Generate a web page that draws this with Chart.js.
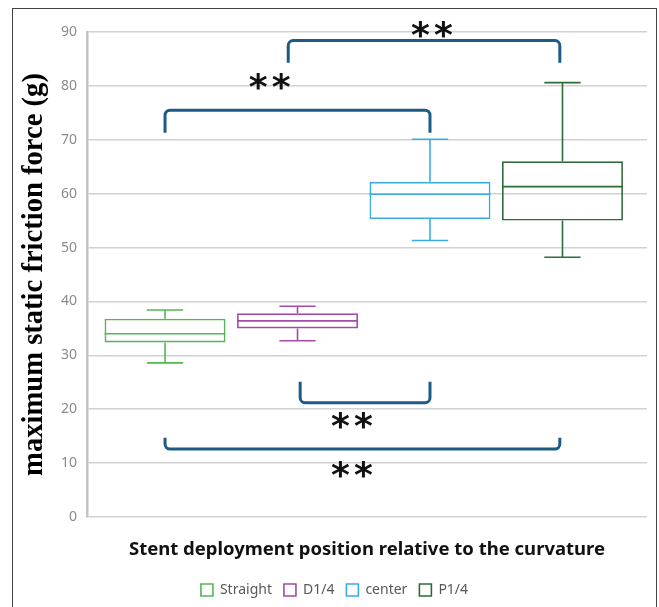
<!DOCTYPE html>
<html><head><meta charset="utf-8">
<script src="https://cdn.jsdelivr.net/npm/chart.js@4.4.1/dist/chart.umd.min.js"></script>
<style>
html,body{margin:0;padding:0;background:#fff;}
#wrap{position:relative;width:659px;height:607px;overflow:hidden;}
#frame{position:absolute;left:12px;top:8px;width:643px;height:640px;border:1.5px solid #444;pointer-events:none;}
canvas{position:absolute;left:0;top:0;}
</style></head><body>
<div id="wrap"><canvas id="c" width="659" height="607"></canvas><div id="frame"></div></div>
<script>
// ---- data ----
const categories = ['Straight', 'D1/4', 'center', 'P1/4'];
const positions = [0, 1, 2, 3];
const whiskerMax = [38.4, 39.1, 70.1, 80.6];
const q3 = [36.8, 37.8, 62.2, 66.0];
const medians = [34.0, 36.4, 59.9, 61.3];
const q1 = [32.4, 35.0, 55.3, 55.0];
const whiskerMin = [28.6, 32.7, 51.3, 48.2];
const yTicks = [0, 10, 20, 30, 40, 50, 60, 70, 80, 90];
const colors = ['#55B655', '#A54AA6', '#3AACE2', '#2E6B37'];

// significance brackets (category positions / y values)
const bracketFrom = [0.93, 0.0, 1.02, 0.0];
const bracketTo = [2.98, 2.0, 2.0, 2.98];
const bracketLevel = [88.4, 75.5, 21.2, 12.6];
const bracketTip = [84.3, 71.3, 25.1, 14.7];
const starX = [2.015, 0.79, 1.41, 1.41];
const starY = [90.4, 80.8, 18.0, 8.9];
const starText = ['*', '*', '*', '*'];

const datasets = categories.map((name, i) => ({
  label: name,
  data: [{x: positions[i], y: [q1[i], q3[i]]}],
  backgroundColor: 'rgba(255,255,255,0)',
  borderColor: colors[i],
  borderWidth: 1.6,
  borderSkipped: false,
  grouped: false,
  categoryPercentage: 1,
  barPercentage: 0.913
}));

const boxPlugin = {
  id: 'boxExtras',
  afterDatasetsDraw(chart) {
    const ctx = chart.ctx, y = chart.scales.y;
    ctx.save();
    chart.data.datasets.forEach((ds, i) => {
      const bar = chart.getDatasetMeta(i).data[0];
      const cx = bar.x, w = bar.width, cap = w * 0.3;
      ctx.strokeStyle = colors[i];
      ctx.lineWidth = 1.6;
      ctx.beginPath();
      ctx.moveTo(cx - w / 2, y.getPixelForValue(medians[i]));
      ctx.lineTo(cx + w / 2, y.getPixelForValue(medians[i]));
      ctx.moveTo(cx, y.getPixelForValue(q3[i]));
      ctx.lineTo(cx, y.getPixelForValue(whiskerMax[i]));
      ctx.moveTo(cx, y.getPixelForValue(q1[i]));
      ctx.lineTo(cx, y.getPixelForValue(whiskerMin[i]));
      ctx.moveTo(cx - cap / 2, y.getPixelForValue(whiskerMax[i]));
      ctx.lineTo(cx + cap / 2, y.getPixelForValue(whiskerMax[i]));
      ctx.moveTo(cx - cap / 2, y.getPixelForValue(whiskerMin[i]));
      ctx.lineTo(cx + cap / 2, y.getPixelForValue(whiskerMin[i]));
      ctx.stroke();
    });
    ctx.restore();
  },
  afterDraw(chart) {
    const ctx = chart.ctx, x = chart.scales.x, y = chart.scales.y;
    ctx.save();
    ctx.strokeStyle = '#1D5B84';
    ctx.lineWidth = 3;
    ctx.lineJoin = 'round';
    ctx.lineCap = 'butt';
    bracketFrom.forEach((f, i) => {
      const x1 = x.getPixelForValue(f), x2 = x.getPixelForValue(bracketTo[i]);
      const yl = y.getPixelForValue(bracketLevel[i]), yt = y.getPixelForValue(bracketTip[i]);
      const r = 5;
      ctx.beginPath();
      ctx.moveTo(x1, yt);
      ctx.arcTo(x1, yl, x2, yl, r);
      ctx.arcTo(x2, yl, x2, yt, r);
      ctx.lineTo(x2, yt);
      ctx.stroke();
    });
    ctx.fillStyle = '#111';
    ctx.font = 'bold 36px "DejaVu Sans"';
    ctx.textAlign = 'center';
    ctx.textBaseline = 'alphabetic';
    starX.forEach((sx, i) => {
      const px = x.getPixelForValue(sx), py = y.getPixelForValue(starY[i]);
      const m = ctx.measureText(starText[i]);
      const off = (m.actualBoundingBoxAscent - m.actualBoundingBoxDescent) / 2;
      ctx.fillText(starText[i], px - 11.5, py + off);
      ctx.fillText(starText[i], px + 11.5, py + off);
    });
    ctx.restore();
  }
};

new Chart(document.getElementById('c'), {
  type: 'bar',
  data: {datasets},
  options: {
    responsive: false,
    animation: false,
    layout: {padding: {left: 22, right: 12, top: 32, bottom: 0}},
    plugins: {
      tooltip: {enabled: false},
      legend: {
        position: 'bottom',
        labels: {
          boxWidth: 12, boxHeight: 12, padding: 12,
          color: '#595959',
          font: {family: '"Noto Sans"', size: 14}
        }
      }
    },
    scales: {
      x: {
        type: 'linear',
        offset: false,
        min: -0.589, max: 3.638,
        afterBuildTicks(s) { s.ticks = positions.map(v => ({value: v})); },
        grid: {display: false},
        border: {display: false},
        ticks: {display: false},
        title: {
          display: true,
          text: 'Stent deployment position relative to the curvature',
          color: '#111',
          font: {family: '"Noto Sans"', size: 18.5, weight: 'bold', lineHeight: 1.2},
          padding: {top: 0, bottom: 10}
        },
        afterFit(s) { s.height = 54; }
      },
      y: {
        min: 0, max: 90,
        afterBuildTicks(s) { s.ticks = yTicks.map(v => ({value: v})); },
        grid: {color: '#d2d2d2', lineWidth: 1.5, drawTicks: false},
        border: {display: true, color: '#c4c4c4', width: 2.5},
        ticks: {
          color: '#8a8a8a', padding: 10,
          font: {family: '"Noto Sans"', size: 14}
        },
        title: {
          display: true,
          text: 'maximum static friction force (g)',
          color: '#000',
          font: {family: '"Liberation Serif"', size: 28.6, weight: 'bold', lineHeight: 0.86},
          padding: {top: 0, bottom: 0}
        },
        afterFit(s) { s.width = 65; }
      }
    }
  },
  plugins: [boxPlugin]
});
</script>
</body></html>
